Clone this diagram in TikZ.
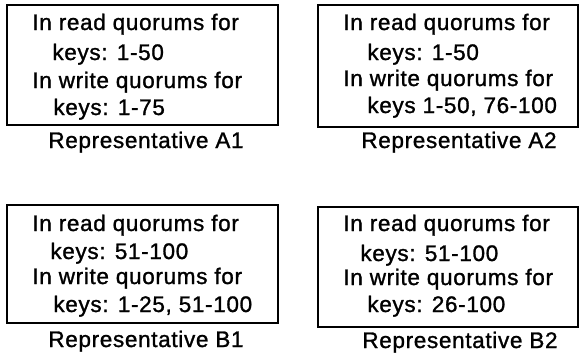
\documentclass[tikz,border=0pt]{standalone}
\usepackage{fontspec}
\setmainfont{Liberation Sans}
\newfontfamily\repfont[FakeBold=1.2,LetterSpace=3]{Liberation Sans}
\begin{document}
\begin{tikzpicture}[x=0.5pt,y=-0.5pt,
  repbox/.style={draw, line width=1pt, inner sep=0pt, rectangle},
  line/.style={anchor=base west, inner sep=0pt, font=\repfont\fontsize{11.25}{13}\selectfont},
  caption/.style={anchor=base, inner sep=0pt, font=\repfont\fontsize{11.25}{13}\selectfont}]
\useasboundingbox (0,0) rectangle (579,360);

% Representative A1
\node[repbox, minimum width=135.5pt, minimum height=60pt] (a1box) at (142.5,65) {};
\node[line] (a1r1) at (32,30)  {In read quorums for};
\node[line] (a1r2) at (52,60)  {keys: 1-50};
\node[line] (a1w1) at (32,88)  {In write quorums for};
\node[line] (a1w2) at (53,115) {keys: 1-75};
\node[caption] (a1cap) at (146,148) {Representative A1};

% Representative A2
\node[repbox, minimum width=130pt, minimum height=61pt] (a2box) at (448,66) {};
\node[line] (a2r1) at (343,30)  {In read quorums for};
\node[line] (a2r2) at (367,60)  {keys: 1-50};
\node[line] (a2w1) at (343,86)  {In write quorums for};
\node[line] (a2w2) at (367,113) {keys 1-50, 76-100};
\node[caption] (a2cap) at (459,148) {Representative A2};

% Representative B1
\node[repbox, minimum width=135.5pt, minimum height=59pt] (b1box) at (142.5,264) {};
\node[line] (b1r1) at (32,231)  {In read quorums for};
\node[line] (b1r2) at (50,259)  {keys: 51-100};
\node[line] (b1w1) at (32,284)  {In write quorums for};
\node[line] (b1w2) at (53,312)  {keys: 1-25, 51-100};
\node[caption] (b1cap) at (146,347) {Representative B1};

% Representative B2
\node[repbox, minimum width=130pt, minimum height=60pt] (b2box) at (448,267) {};
\node[line] (b2r1) at (343,231)  {In read quorums for};
\node[line] (b2r2) at (360,261)  {keys: 51-100};
\node[line] (b2w1) at (343,285)  {In write quorums for};
\node[line] (b2w2) at (367,312)  {keys: 26-100};
\node[caption] (b2cap) at (460,348) {Representative B2};
\end{tikzpicture}
\end{document}
